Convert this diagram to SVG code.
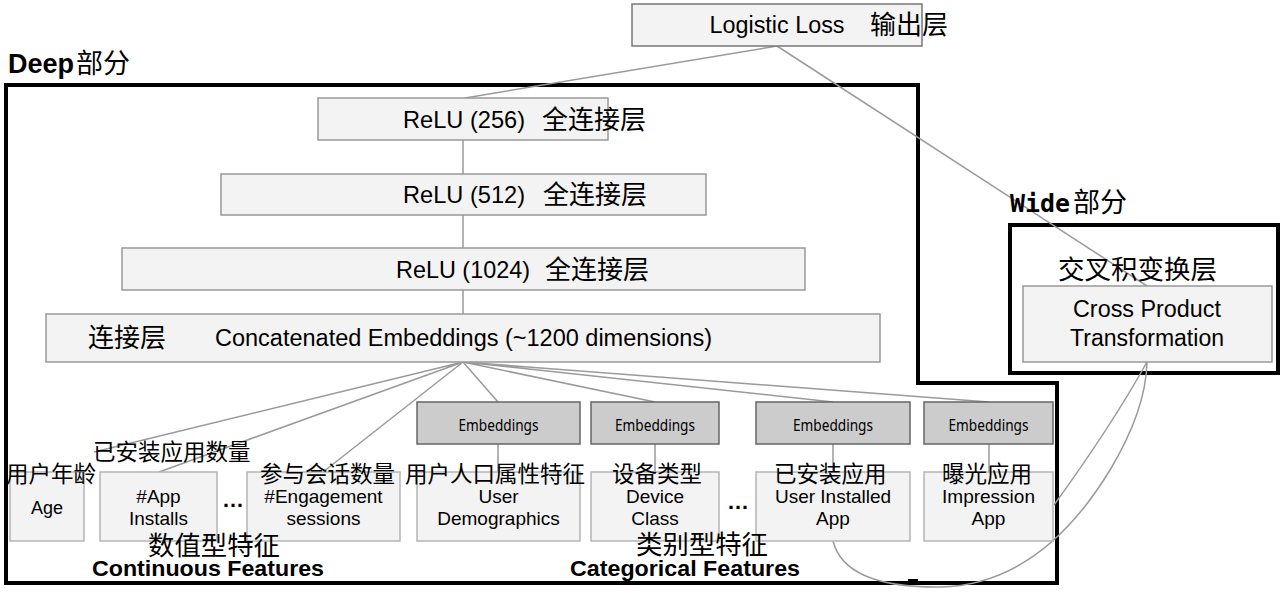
<svg xmlns="http://www.w3.org/2000/svg" width="1281" height="601" viewBox="0 0 1281 601">
<style>
.bg{fill:#fff}
.box{fill:#f3f3f3;stroke:#999;stroke-width:1.5}
.fbox{fill:#f3f3f3;stroke:#b5b5b5;stroke-width:1.5}
.emb{fill:#cccccc;stroke:#666;stroke-width:1.5}
.frame{fill:none;stroke:#000;stroke-width:4}
.ln{fill:none;stroke:#9a9a9a;stroke-width:1.5}
.t{font-family:"Liberation Sans",Arial,sans-serif;fill:#000}
.c{font-family:"Noto Sans CJK SC","Noto Sans",sans-serif;fill:#000}
.e{font-family:"Noto Sans","Liberation Sans",sans-serif;fill:#000;font-size:17px}
.m{text-anchor:middle}
.b{font-weight:bold}
</style>
<rect class="bg" x="0" y="0" width="1281" height="601"/>
<g id="frames">
<path class="frame" d="M6,85 H918 V383 H1057 V583 H6 Z"/>
<rect class="frame" x="1010" y="225" width="268" height="148"/>
<rect x="908" y="579" width="10" height="5" fill="#000"/>
</g>
<g id="connectors">
<path class="ln" d="M777,46 L465,98"/>
<path class="ln" d="M777,46 L1147,286"/>
<path class="ln" d="M463,140 V174 M463,215 V248 M463,290 V314"/>
<path class="ln" d="M463,362 L94,452 M463,362 L159,472 M463,362 L323,472 M463,362 L498,402 M463,362 L655,402 M463,362 L833,402 M463,362 L989,402"/>
<path class="ln" d="M498,444 V472 M655,444 V472 M833,444 V472 M989,444 V472"/>
<path class="ln" d="M1147,362 Q1112,425 1054,505"/>
<path class="ln" d="M833,541 Q845,588 940,587 Q1040,585 1110,470 Q1146,410 1147,362"/>
</g>
<g id="logistic">
<rect class="box" x="632" y="4" width="290" height="42" style="stroke:#777"/>
<text class="t" x="709.5" y="33" font-size="23" textLength="135" lengthAdjust="spacingAndGlyphs">Logistic Loss</text>
<text class="c" x="870" y="34" font-size="26">输出层</text>
</g>
<g id="deep-title">
<text class="t b" x="8" y="73" font-size="27" textLength="66" lengthAdjust="spacingAndGlyphs">Deep</text>
<text class="c" x="76" y="73" font-size="27">部分</text>
</g>
<g id="relu256">
<rect class="box" x="318" y="98" width="290" height="42"/>
<text class="t" x="403" y="128" font-size="24" textLength="122" lengthAdjust="spacingAndGlyphs">ReLU (256)</text>
<text class="c" x="542" y="129" font-size="26">全连接层</text>
</g>
<g id="relu512">
<rect class="box" x="221" y="174" width="485" height="41"/>
<text class="t" x="403" y="203" font-size="24" textLength="122" lengthAdjust="spacingAndGlyphs">ReLU (512)</text>
<text class="c" x="543" y="204" font-size="26">全连接层</text>
</g>
<g id="relu1024">
<rect class="box" x="122" y="248" width="683" height="42"/>
<text class="t" x="396" y="278" font-size="24" textLength="134" lengthAdjust="spacingAndGlyphs">ReLU (1024)</text>
<text class="c" x="545" y="279" font-size="26">全连接层</text>
</g>
<g id="concat">
<rect class="box" x="46" y="314" width="834" height="48"/>
<text class="c" x="88" y="347" font-size="26">连接层</text>
<text class="t" x="215" y="346" font-size="23.5" textLength="497" lengthAdjust="spacingAndGlyphs">Concatenated Embeddings (~1200 dimensions)</text>
</g>
<g id="emb1">
<rect class="emb" x="417" y="402" width="163" height="42"/>
<text class="e m" x="498.5" y="431" textLength="80" lengthAdjust="spacingAndGlyphs">Embeddings</text>
</g>
<g id="emb2">
<rect class="emb" x="591" y="402" width="128" height="42"/>
<text class="e m" x="655" y="431" textLength="80" lengthAdjust="spacingAndGlyphs">Embeddings</text>
</g>
<g id="emb3">
<rect class="emb" x="756" y="402" width="154" height="42"/>
<text class="e m" x="833" y="431" textLength="80" lengthAdjust="spacingAndGlyphs">Embeddings</text>
</g>
<g id="emb4">
<rect class="emb" x="924" y="402" width="129" height="42"/>
<text class="e m" x="988.5" y="431" textLength="80" lengthAdjust="spacingAndGlyphs">Embeddings</text>
</g>
<g id="age">
<rect class="fbox" x="10" y="472" width="74" height="69"/>
<text class="t m" x="47" y="514" font-size="18">Age</text>
<text class="c" x="6" y="482" font-size="22.5">用户年龄</text>
</g>
<g id="app-installs">
<rect class="fbox" x="100" y="472" width="117" height="69"/>
<text class="t m" x="158.5" y="503" font-size="19">#App</text>
<text class="t m" x="158.5" y="525" font-size="19">Installs</text>
<text class="c" x="93" y="460" font-size="22.5">已安装应用数量</text>
</g>
<text class="t m b" x="233" y="507" font-size="22">…</text>
<g id="engagement">
<rect class="fbox" x="247" y="472" width="153" height="69"/>
<text class="t m" x="323.5" y="503" font-size="19">#Engagement</text>
<text class="t m" x="323.5" y="525" font-size="19">sessions</text>
<text class="c" x="260" y="482" font-size="22.5">参与会话数量</text>
</g>
<g id="demographics">
<rect class="fbox" x="417" y="472" width="163" height="69"/>
<text class="t m" x="498.5" y="503" font-size="19">User</text>
<text class="t m" x="498.5" y="525" font-size="19">Demographics</text>
<text class="c" x="405" y="482" font-size="22.5">用户人口属性特征</text>
</g>
<g id="device">
<rect class="fbox" x="591" y="472" width="128" height="69"/>
<text class="t m" x="655" y="503" font-size="19">Device</text>
<text class="t m" x="655" y="525" font-size="19">Class</text>
<text class="c" x="612" y="482" font-size="22.5">设备类型</text>
</g>
<text class="t m b" x="738" y="509" font-size="22">…</text>
<g id="installed">
<rect class="fbox" x="756" y="472" width="154" height="69"/>
<text class="t m" x="833" y="503" font-size="19">User Installed</text>
<text class="t m" x="833" y="525" font-size="19">App</text>
<text class="c" x="774" y="482" font-size="22.5">已安装应用</text>
</g>
<g id="impression">
<rect class="fbox" x="924" y="472" width="129" height="69"/>
<text class="t m" x="988.5" y="503" font-size="19">Impression</text>
<text class="t m" x="988.5" y="525" font-size="19">App</text>
<text class="c" x="942" y="482" font-size="22.5">曝光应用</text>
</g>
<g id="continuous-label">
<text class="c" x="148" y="555" font-size="26.4">数值型特征</text>
<text class="t b" x="92" y="576" font-size="22" textLength="232" lengthAdjust="spacingAndGlyphs">Continuous Features</text>
</g>
<g id="categorical-label">
<text class="c" x="636" y="554" font-size="26.4">类别型特征</text>
<text class="t b" x="570" y="576" font-size="22" textLength="230" lengthAdjust="spacingAndGlyphs">Categorical Features</text>
</g>
<g id="wide-title">
<text x="1010" y="212" font-size="25" font-weight="bold" font-family="'DejaVu Sans Mono',monospace" textLength="60" lengthAdjust="spacingAndGlyphs">Wide</text>
<text class="c" x="1073" y="212" font-size="27">部分</text>
</g>
<g id="cross">
<text class="c" x="1058" y="279" font-size="26.5">交叉积变换层</text>
<rect class="box" x="1023" y="286" width="249" height="76"/>
<text class="t m" x="1147" y="317" font-size="23" textLength="148" lengthAdjust="spacingAndGlyphs">Cross Product</text>
<text class="t m" x="1147" y="346" font-size="23" textLength="154" lengthAdjust="spacingAndGlyphs">Transformation</text>
</g>
</svg>
